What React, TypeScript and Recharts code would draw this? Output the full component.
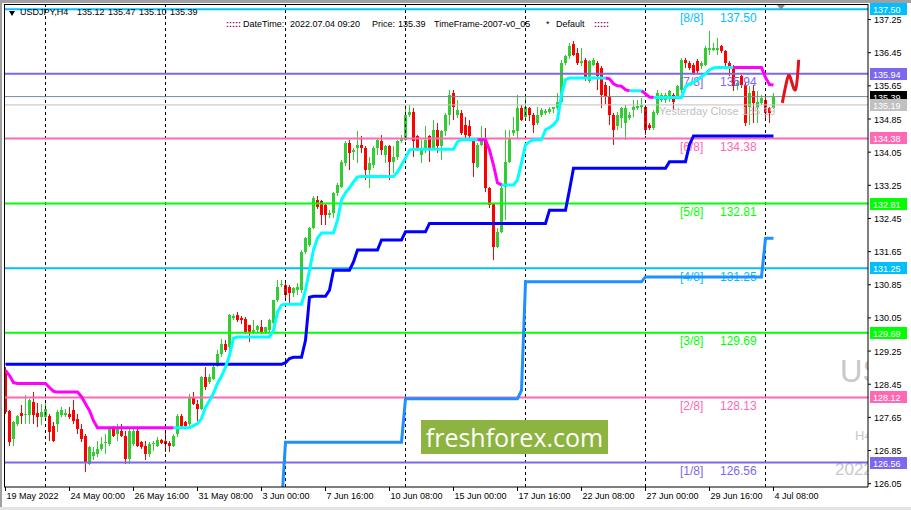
import React from "react";
import { ComposedChart, XAxis, YAxis, Bar, Line, ReferenceLine } from "recharts";

// USDJPY H4 candles, first bar 19 May 2022 08:00, last bar 4 Jul 2022 08:00
const opens = [
  128.80, 127.80, 127.13, 127.49, 127.75, 127.70, 127.70, 128.02, 127.75, 127.65,
  127.66, 127.68, 127.45, 127.49, 127.70, 127.70, 127.74, 127.82, 127.61, 127.37,
  127.21, 126.53, 126.73, 126.77, 126.89, 127.02, 127.01, 127.37, 127.25, 127.33,
  127.21, 126.65, 127.01, 127.33, 127.05, 126.95, 126.77, 127.00, 126.97, 127.11,
  127.09, 127.03, 126.97, 127.25, 127.69, 127.53, 127.49, 128.14, 127.98, 127.86,
  128.62, 128.50, 128.58, 128.90, 129.19, 129.43, 129.35, 130.05, 130.11, 130.05,
  130.03, 129.87, 129.71, 129.76, 129.83, 129.71, 129.75, 129.93, 130.48, 130.84,
  130.84, 130.80, 130.64, 130.72, 130.72, 131.64, 131.81, 132.21, 132.90, 132.86,
  132.77, 132.53, 132.57, 133.06, 133.22, 133.78, 134.27, 134.05, 134.15, 134.23,
  134.15, 133.62, 133.74, 134.15, 134.31, 133.98, 134.19, 133.82, 133.94, 134.31,
  134.35, 134.95, 135.03, 134.43, 133.98, 134.15, 134.43, 134.15, 134.59, 134.19,
  134.55, 134.95, 135.48, 134.95, 135.00, 134.71, 134.67, 134.35, 133.70, 134.23,
  134.35, 133.18, 132.82, 131.77, 132.13, 133.22, 133.82, 134.51, 134.55, 135.11,
  134.91, 135.11, 134.95, 134.75, 134.95, 135.00, 135.03, 135.09, 135.11, 135.27,
  136.20, 136.36, 136.65, 136.44, 136.20, 136.28, 135.76, 136.16, 136.20, 136.08,
  135.68, 135.40, 134.95, 134.67, 134.87, 134.75, 134.87, 135.07, 135.11, 135.14,
  135.15, 134.71, 134.63, 134.99, 135.31, 135.31, 135.40, 135.44, 135.40, 135.56,
  136.28, 136.20, 136.16, 136.24, 136.12, 136.16, 136.52, 136.52, 136.52, 136.60,
  136.48, 136.20, 136.12, 135.64, 135.88, 135.68, 135.15, 135.52, 135.15, 135.23,
  135.31, 135.11, 135.12,
];
const highs = [
  128.86, 127.84, 127.57, 127.70, 127.94, 128.18, 128.10, 128.26, 128.00, 127.98,
  128.02, 127.74, 127.55, 127.82, 127.90, 127.85, 127.90, 128.06, 127.74, 127.50,
  127.25, 126.97, 126.93, 127.09, 127.17, 127.25, 127.41, 127.45, 127.49, 127.49,
  127.33, 127.37, 127.40, 127.37, 127.09, 127.09, 127.05, 127.09, 127.17, 127.13,
  127.33, 127.09, 127.25, 127.74, 127.74, 127.57, 128.22, 128.26, 128.06, 128.64,
  128.86, 128.70, 128.94, 129.27, 129.55, 129.51, 130.15, 130.15, 130.19, 130.10,
  130.07, 129.87, 130.00, 129.87, 130.00, 129.83, 130.03, 130.48, 130.96, 130.96,
  130.96, 130.85, 130.80, 130.90, 131.70, 132.01, 132.25, 132.98, 132.98, 132.90,
  132.80, 132.65, 133.10, 133.30, 133.86, 134.31, 134.35, 134.15, 134.55, 134.43,
  134.19, 133.94, 134.19, 134.39, 134.47, 134.23, 134.23, 134.19, 134.35, 134.47,
  135.19, 135.19, 135.11, 134.47, 134.35, 134.67, 134.47, 134.83, 134.75, 134.59,
  135.00, 135.56, 135.56, 135.31, 135.07, 134.91, 134.83, 134.39, 134.27, 134.67,
  134.63, 133.20, 132.82, 132.21, 133.26, 134.59, 134.59, 134.91, 135.44, 135.19,
  135.44, 135.15, 135.00, 135.15, 135.11, 135.10, 135.14, 135.15, 135.48, 136.28,
  136.40, 136.69, 136.73, 136.57, 136.57, 136.32, 136.28, 136.32, 136.24, 136.12,
  135.75, 135.64, 134.99, 135.03, 135.15, 135.19, 135.03, 135.31, 135.31, 135.35,
  135.19, 134.75, 135.07, 135.56, 135.48, 135.48, 135.56, 135.48, 135.68, 136.32,
  136.32, 136.24, 136.20, 136.30, 136.25, 136.60, 136.97, 136.69, 136.81, 136.64,
  136.52, 136.24, 136.16, 135.80, 135.92, 135.72, 135.64, 135.68, 135.52, 135.44,
  135.44, 135.15, 135.47,
];
const lows = [
  127.74, 126.97, 126.97, 127.45, 127.50, 127.50, 127.50, 127.50, 127.41, 127.47,
  127.57, 127.09, 127.05, 127.29, 127.65, 127.65, 127.62, 127.50, 127.25, 127.05,
  126.32, 126.49, 126.61, 126.69, 126.85, 126.77, 126.97, 127.17, 127.09, 127.17,
  126.53, 126.53, 126.95, 126.93, 126.89, 126.61, 126.69, 126.85, 126.93, 127.01,
  126.81, 126.81, 126.93, 127.17, 127.41, 127.41, 127.45, 127.94, 127.57, 127.82,
  128.30, 128.46, 128.54, 128.86, 129.11, 129.23, 129.27, 130.00, 129.95, 129.90,
  129.67, 129.47, 129.67, 129.71, 129.67, 129.67, 129.71, 129.90, 130.44, 130.80,
  130.48, 130.40, 130.55, 130.60, 130.65, 131.60, 131.75, 132.20, 132.69, 132.29,
  132.30, 132.45, 132.45, 133.00, 133.18, 133.72, 133.62, 133.85, 133.78, 134.03,
  133.38, 133.18, 133.66, 133.98, 133.98, 133.78, 133.38, 133.54, 133.86, 134.27,
  134.31, 134.91, 133.94, 134.07, 133.78, 134.03, 133.82, 134.10, 134.03, 133.86,
  134.43, 134.71, 134.83, 134.87, 134.47, 134.35, 134.39, 133.46, 133.66, 134.20,
  133.10, 132.70, 131.44, 131.73, 132.09, 132.41, 133.78, 134.43, 134.39, 134.79,
  134.87, 134.79, 134.51, 134.71, 134.91, 134.95, 134.97, 135.00, 135.07, 135.23,
  136.15, 136.30, 136.36, 136.16, 136.12, 135.76, 135.72, 136.12, 135.56, 135.11,
  135.20, 134.71, 134.23, 134.59, 134.63, 134.35, 134.83, 134.91, 135.07, 134.99,
  134.47, 134.59, 134.59, 134.95, 135.27, 135.23, 135.27, 135.07, 135.35, 135.48,
  136.08, 136.04, 135.92, 135.95, 136.05, 136.12, 136.40, 136.48, 136.40, 136.44,
  136.12, 135.88, 135.52, 135.55, 135.60, 134.67, 134.71, 134.75, 134.75, 135.19,
  134.87, 134.75, 135.10,
];
const closes = [
  127.77, 127.05, 127.53, 127.69, 127.69, 127.72, 128.06, 127.70, 127.65, 127.77,
  127.86, 127.29, 127.09, 127.78, 127.82, 127.76, 127.67, 127.57, 127.37, 127.13,
  126.57, 126.93, 126.81, 126.89, 127.01, 127.06, 127.37, 127.21, 127.37, 127.21,
  126.65, 127.33, 127.33, 126.97, 126.93, 126.77, 127.01, 127.03, 127.11, 127.03,
  127.01, 126.97, 127.21, 127.69, 127.45, 127.45, 128.14, 127.98, 127.86, 128.62,
  128.38, 128.62, 128.86, 129.19, 129.43, 129.27, 130.11, 130.09, 129.99, 129.99,
  129.71, 129.71, 129.77, 129.85, 129.71, 129.83, 130.00, 130.48, 130.80, 130.88,
  130.60, 130.64, 130.76, 130.79, 131.64, 131.97, 132.21, 132.94, 132.73, 132.53,
  132.53, 132.57, 133.06, 133.26, 133.82, 134.27, 134.03, 134.10, 134.23, 134.15,
  133.62, 133.78, 134.15, 134.35, 134.11, 134.19, 133.82, 133.94, 134.31, 134.39,
  134.95, 135.03, 134.31, 134.11, 134.15, 134.35, 134.15, 134.59, 134.19, 134.55,
  134.95, 135.44, 135.15, 135.07, 134.51, 134.47, 134.43, 133.78, 134.23, 134.35,
  133.18, 132.78, 131.77, 132.13, 133.18, 133.82, 134.39, 134.59, 135.11, 134.83,
  135.15, 134.95, 134.71, 134.95, 135.07, 135.05, 135.09, 135.13, 135.27, 136.20,
  136.36, 136.61, 136.40, 136.20, 136.24, 135.84, 136.24, 136.28, 135.88, 135.44,
  135.40, 134.95, 134.59, 134.95, 135.11, 135.11, 134.95, 135.15, 135.17, 135.19,
  134.59, 134.63, 135.03, 135.48, 135.44, 135.44, 135.52, 135.27, 135.64, 136.28,
  136.20, 136.08, 135.96, 136.00, 136.20, 136.56, 136.56, 136.56, 136.56, 136.48,
  136.20, 136.12, 135.64, 135.72, 135.68, 134.75, 135.48, 135.23, 135.27, 135.35,
  134.99, 134.99, 135.39,
];

// trailing stop line (cyan while rising, magenta while falling)
const trail = [
  128.78, 128.66, 128.49, 128.47, 128.47, 128.47, 128.47, 128.47, 128.47, 128.47,
  128.47, 128.37, 128.28, 128.26, 128.26, 128.26, 128.26, 128.26, 128.26, 128.15,
  127.98, 127.81, 127.57, 127.40, 127.40, 127.40, 127.40, 127.40, 127.40, 127.40,
  127.40, 127.40, 127.40, 127.40, 127.40, 127.40, 127.40, 127.40, 127.40, 127.40,
  127.40, 127.40, 127.40, 127.40, 127.40, 127.40, 127.40, 127.45, 127.50, 127.62,
  127.89, 128.06, 128.23, 128.47, 128.64, 128.86, 129.15, 129.56, 129.59, 129.59,
  129.59, 129.59, 129.59, 129.59, 129.59, 129.59, 129.59, 129.75, 130.19, 130.36,
  130.38, 130.38, 130.38, 130.38, 130.38, 130.72, 131.20, 131.69, 131.98, 132.10,
  132.10, 132.10, 132.10, 132.41, 132.90, 133.07, 133.19, 133.33, 133.45, 133.46,
  133.46, 133.46, 133.46, 133.46, 133.46, 133.46, 133.46, 133.46, 133.57, 133.74,
  133.91, 134.10, 134.12, 134.12, 134.12, 134.12, 134.12, 134.12, 134.12, 134.12,
  134.12, 134.12, 134.12, 134.30, 134.35, 134.35, 134.35, 134.35, 134.35, 134.35,
  134.35, 134.10, 133.74, 133.31, 133.26, 133.26, 133.26, 133.26, 133.38, 133.79,
  134.23, 134.30, 134.35, 134.35, 134.35, 134.59, 134.64, 134.71, 134.83, 135.44,
  135.80, 135.84, 135.84, 135.84, 135.84, 135.84, 135.84, 135.84, 135.84, 135.84,
  135.84, 135.82, 135.70, 135.65, 135.64, 135.56, 135.53, 135.53, 135.53, 135.53,
  135.46, 135.38, 135.37, 135.37, 135.37, 135.37, 135.37, 135.37, 135.37, 135.37,
  135.63, 135.70, 135.73, 135.80, 135.87, 135.94, 136.04, 136.08, 136.09, 136.09,
  136.09, 136.09, 136.09, 136.09, 136.09, 136.09, 136.09, 136.09, 136.09, 136.09,
  135.85, 135.68, 135.67,
];
// bar ranges where the trail is drawn magenta
const trailDownRuns = [
  [0, 42],
  [118, 124],
  [150, 156],
  [159, 162],
  [182, 192],
];

const darkBlue = [
  128.93, 128.93, 128.93, 128.93, 128.93, 128.93, 128.93, 128.93, 128.93, 128.93,
  128.93, 128.93, 128.93, 128.93, 128.93, 128.93, 128.93, 128.93, 128.93, 128.93,
  128.93, 128.93, 128.93, 128.93, 128.93, 128.93, 128.93, 128.93, 128.93, 128.93,
  128.93, 128.93, 128.93, 128.93, 128.93, 128.93, 128.93, 128.93, 128.93, 128.93,
  128.93, 128.93, 128.93, 128.93, 128.93, 128.93, 128.93, 128.93, 128.93, 128.93,
  128.93, 128.93, 128.93, 128.93, 128.93, 128.93, 128.93, 128.93, 128.93, 128.93,
  128.93, 128.93, 128.93, 128.93, 128.93, 128.93, 128.93, 128.93, 128.93, 128.93,
  128.97, 129.07, 129.10, 129.10, 129.10, 129.51, 130.55, 130.57, 130.57, 130.57,
  130.57, 130.72, 131.20, 131.20, 131.20, 131.20, 131.20, 131.40, 131.69, 131.69,
  131.69, 131.69, 131.69, 131.69, 131.93, 131.93, 131.93, 131.93, 131.93, 131.93,
  132.13, 132.13, 132.13, 132.13, 132.13, 132.13, 132.33, 132.33, 132.33, 132.33,
  132.33, 132.33, 132.33, 132.33, 132.33, 132.33, 132.33, 132.33, 132.33, 132.33,
  132.33, 132.33, 132.33, 132.33, 132.33, 132.33, 132.33, 132.33, 132.33, 132.33,
  132.33, 132.33, 132.33, 132.33, 132.33, 132.33, 132.65, 132.65, 132.65, 132.65,
  132.65, 133.14, 133.66, 133.66, 133.66, 133.66, 133.66, 133.66, 133.66, 133.66,
  133.66, 133.66, 133.66, 133.66, 133.66, 133.66, 133.66, 133.66, 133.66, 133.66,
  133.66, 133.66, 133.66, 133.66, 133.66, 133.66, 133.82, 133.82, 133.82, 133.82,
  133.82, 134.23, 134.44, 134.44, 134.44, 134.44, 134.44, 134.44, 134.44, 134.44,
  134.44, 134.44, 134.44, 134.44, 134.44, 134.44, 134.44, 134.44, 134.44, 134.44,
  134.44, 134.44, 134.44,
];

const dodgerBlue = [
  null, null, null, null, null, null, null, null, null, null,
  null, null, null, null, null, null, null, null, null, null,
  null, null, null, null, null, null, null, null, null, null,
  null, null, null, null, null, null, null, null, null, null,
  null, null, null, null, null, null, null, null, null, null,
  null, null, null, null, null, null, null, null, null, null,
  null, null, null, null, null, null, null, null, null, 125.50,
  127.05, 127.05, 127.05, 127.05, 127.05, 127.05, 127.05, 127.05, 127.05, 127.05,
  127.05, 127.05, 127.05, 127.05, 127.05, 127.05, 127.05, 127.05, 127.05, 127.05,
  127.05, 127.05, 127.05, 127.05, 127.05, 127.05, 127.05, 127.05, 127.05, 127.05,
  128.10, 128.10, 128.10, 128.10, 128.10, 128.10, 128.10, 128.10, 128.10, 128.10,
  128.10, 128.10, 128.10, 128.10, 128.10, 128.10, 128.10, 128.10, 128.10, 128.10,
  128.10, 128.10, 128.10, 128.10, 128.10, 128.10, 128.10, 128.10, 128.10, 128.30,
  130.92, 130.92, 130.92, 130.92, 130.92, 130.92, 130.92, 130.92, 130.92, 130.92,
  130.92, 130.92, 130.92, 130.92, 130.92, 130.92, 130.92, 130.92, 130.92, 130.92,
  130.92, 130.92, 130.92, 130.92, 130.92, 130.92, 130.92, 130.92, 130.92, 130.92,
  131.04, 131.04, 131.04, 131.04, 131.04, 131.04, 131.04, 131.04, 131.04, 131.04,
  131.04, 131.04, 131.04, 131.04, 131.04, 131.04, 131.04, 131.04, 131.04, 131.04,
  131.04, 131.04, 131.04, 131.04, 131.04, 131.04, 131.04, 131.04, 131.04, 131.04,
  131.97, 131.97, 131.97,
];

// hand drawn forecast scribble right of the last bar
const forecastX = [194.2, 195.4, 196.25, 197.5, 198.3];
const forecastY = [135.24, 135.8, 135.84, 135.56, 136.28];

const weekStarts = [10, 40, 70, 100, 130, 160, 190];
const dateTicks = [0, 16, 32, 48, 64, 80, 96, 112, 128, 144, 160, 176, 192];
const dateLabels = [
  "19 May 2022", "24 May 00:00", "26 May 16:00", "31 May 08:00", "3 Jun 00:00",
  "7 Jun 16:00", "10 Jun 08:00", "15 Jun 00:00", "17 Jun 16:00", "22 Jun 08:00",
  "27 Jun 00:00", "29 Jun 16:00", "4 Jul 08:00",
];
const priceTicks = [
  126.05, 126.85, 127.65, 128.45, 129.25, 130.05, 130.85, 131.65,
  132.45, 133.25, 134.05, 134.85, 135.65, 136.45, 137.25,
];

const murreyLevels = [137.5, 135.94, 134.38, 132.81, 131.25, 129.69, 128.13, 126.56];
const murreyNames = ["[8/8]", "[7/8]", "[6/8]", "[5/8]", "[4/8]", "[3/8]", "[2/8]", "[1/8]"];
const murreyTexts = ["137.50", "135.94", "134.38", "132.81", "131.25", "129.69", "128.13", "126.56"];
const murreyBoxes = ["137.50", "135.94", "134.38", "132.81", "131.25", "129.69", "128.12", "126.56"];
const murreyColors = ["#00BFFF", "#7B68EE", "#FF69B4", "#00FF00", "#00BFFF", "#00FF00", "#FF69B4", "#7B68EE"];

const bidPrice = 135.39;
const yesterdayClose = 135.19;

const FONT = '"Liberation Sans", Arial, sans-serif';

const rows = opens.map((o, i) => {
  const down = trailDownRuns.some(([a, b]) => i >= a && i <= b);
  const edge = trailDownRuns.some(([a, b]) => i === a || i === b);
  return {
    i,
    o,
    h: highs[i],
    l: lows[i],
    c: closes[i],
    up: !down || edge ? trail[i] : null,
    dn: down ? trail[i] : null,
    blue: darkBlue[i],
    dodger: dodgerBlue[i],
  };
});

const forecastRows = forecastX.map((x, k) => ({ i: x, v: forecastY[k] }));

function Candle(props: any) {
  const { x, y, width, height, payload } = props;
  if (!payload) return null;
  const top = Math.min(y, y + height);
  const bot = Math.max(y, y + height);
  const span = payload.h - payload.l;
  const toPx = (v: number) => (span > 0 ? top + ((payload.h - v) / span) * (bot - top) : top);
  const cx = Math.floor(x + width / 2);
  const col = payload.c >= payload.o ? "#32CD32" : "#FF0000";
  const bTop = Math.round(toPx(Math.max(payload.o, payload.c)));
  const bBot = Math.round(toPx(Math.min(payload.o, payload.c)));
  const wTop = Math.round(top);
  return (
    <g shapeRendering="crispEdges">
      <rect x={cx} y={wTop} width={1} height={Math.max(1, Math.round(bot) - wTop)} fill={col} />
      <rect x={cx - 1} y={bTop} width={3} height={Math.max(1, bBot - bTop)} fill={col} />
    </g>
  );
}

function LevelLabel(props: any) {
  const { viewBox, name, text, box, color, boxColor, note, noteColor } = props;
  if (!viewBox) return null;
  const { x, y, width } = viewBox;
  const right = x + width;
  const yy = Math.round(y);
  return (
    <g fontFamily={FONT}>
      {name && (
        <text x={x + 676} y={y + 12.5} fontSize={12} fill={color}>
          {name}
        </text>
      )}
      {text && (
        <text x={x + 716} y={y + 12.5} fontSize={12} fill={color}>
          {text}
        </text>
      )}
      {note && (
        <text x={x + 655} y={y + 10.5} fontSize={11} fill={noteColor}>
          {note}
        </text>
      )}
      <rect x={right + 2} y={yy - 6} width={37} height={12} fill={boxColor || color} />
      <text x={right + 5} y={yy + 3.5} fontSize={9} fill="#ffffff">
        {box}
      </text>
    </g>
  );
}

function XTick(props: any) {
  const { x, y, payload } = props;
  const k = dateTicks.indexOf(payload.value);
  return (
    <text x={x + 1} y={y + 6} fontSize={9} fontFamily={FONT} fill="#000">
      {dateLabels[k]}
    </text>
  );
}

function YTick(props: any) {
  const { x, y, payload } = props;
  return (
    <text x={x + 1} y={y + 3.5} fontSize={9} fontFamily={FONT} fill="#000">
      {payload.value.toFixed(2)}
    </text>
  );
}

const abs = (left: number, top: number, extra: React.CSSProperties = {}): React.CSSProperties => ({
  position: "absolute",
  left,
  top,
  whiteSpace: "pre",
  lineHeight: 1,
  ...extra,
});

export default function App() {
  const small: React.CSSProperties = { fontFamily: FONT, fontSize: 9, color: "#000" };
  const dots: React.CSSProperties = { ...small, color: "#800080", fontWeight: "bold" };
  const mark: React.CSSProperties = { fontFamily: FONT, color: "#c8c8c8" };
  return (
    <div
      style={{
        position: "fixed",
        left: 0,
        top: 0,
        width: 911,
        height: 510,
        background: "#ffffff",
        overflow: "hidden",
      }}
    >
      {/* window edges */}
      <div style={abs(0, 0, { width: 911, height: 3, background: "#a0a0a0" })} />
      <div style={abs(0, 0, { width: 2, height: 510, background: "#a0a0a0" })} />
      <div style={abs(0, 507, { width: 911, height: 3, background: "#e3e3e3" })} />

      {/* symbol watermark behind the chart, cut by the price scale */}
      <div style={abs(4, 4, { width: 864, height: 483, overflow: "hidden" })}>
        <div style={abs(836, 352, { ...mark, fontSize: 31 })}>US</div>
        <div style={abs(851, 425, { ...mark, fontSize: 13 })}>H4</div>
        <div style={abs(831, 457, { ...mark, fontSize: 17 })}>2022</div>
      </div>

      <div style={abs(0, 0)}>
        <ComposedChart width={911} height={510} data={rows} margin={{ top: 4, right: 0, bottom: 0, left: 4 }}>
          <XAxis
            dataKey="i"
            type="number"
            domain={[-0.375, 215.625]}
            allowDataOverflow
            ticks={dateTicks}
            interval={0}
            height={23}
            tickSize={4}
            tickLine={{ stroke: "#000" }}
            axisLine={{ stroke: "#000" }}
            tick={XTick}
          />
          <YAxis
            orientation="right"
            type="number"
            domain={[125.97, 137.625]}
            allowDataOverflow
            ticks={priceTicks}
            interval={0}
            width={43}
            tickSize={3}
            tickLine={{ stroke: "#000" }}
            axisLine={{ stroke: "#000" }}
            tick={YTick}
          />

          {weekStarts.map((w) => (
            <ReferenceLine key={"w" + w} x={w} stroke="#000" strokeDasharray="3 3" strokeWidth={1} />
          ))}

          {murreyLevels.map((lv, k) => (
            <ReferenceLine
              key={"m" + k}
              y={lv}
              stroke={murreyColors[k]}
              strokeWidth={2}
              label={
                <LevelLabel
                  name={murreyNames[k]}
                  text={murreyTexts[k]}
                  box={murreyBoxes[k]}
                  color={murreyColors[k]}
                />
              }
            />
          ))}

          <ReferenceLine
            y={bidPrice}
            stroke="#778899"
            strokeWidth={1}
            label={<LevelLabel box="135.39" color="#000000" />}
          />
          <ReferenceLine
            y={yesterdayClose}
            stroke="#C0C0C0"
            strokeWidth={1}
            label={
              <LevelLabel
                box="135.19"
                color="#C0C0C0"
                note={"Yesterday Close " + yesterdayClose.toFixed(2)}
                noteColor="#C0C0C0"
              />
            }
          />

          <Bar dataKey={(d: any) => [d.l, d.h]} barSize={3} shape={<Candle />} isAnimationActive={false} />

          <Line dataKey="dodger" stroke="#1E90FF" strokeWidth={3} dot={false} isAnimationActive={false} />
          <Line dataKey="blue" stroke="#0000FF" strokeWidth={3} dot={false} isAnimationActive={false} />
          <Line dataKey="up" stroke="#00FFFF" strokeWidth={3} dot={false} isAnimationActive={false} />
          <Line dataKey="dn" stroke="#FF00FF" strokeWidth={3} dot={false} isAnimationActive={false} />
          <Line
            data={forecastRows}
            dataKey="v"
            type="natural"
            stroke="#E3121B"
            strokeWidth={3}
            dot={false}
            isAnimationActive={false}
          />
        </ComposedChart>
      </div>

      {/* chart frame left / top */}
      <div style={abs(4, 4, { width: 864, height: 1, background: "#000" })} />
      <div style={abs(4, 4, { width: 1, height: 483, background: "#000" })} />

      {/* chart shift marker */}
      <div
        style={abs(777, 5, {
          width: 0,
          height: 0,
          borderLeft: "4px solid transparent",
          borderRight: "4px solid transparent",
          borderTop: "5px solid #8a8a8a",
        })}
      />

      {/* header texts */}
      <div
        style={abs(9, 11, {
          width: 0,
          height: 0,
          borderLeft: "3px solid transparent",
          borderRight: "3px solid transparent",
          borderTop: "5px solid #000",
        })}
      />
      <div style={abs(20, 8, small)}>USDJPY,H4</div>
      <div style={abs(77, 8, small)}>135.12</div>
      <div style={abs(108, 8, small)}>135.47</div>
      <div style={abs(139, 8, small)}>135.10</div>
      <div style={abs(170, 8, small)}>135.39</div>

      <div style={abs(226, 20, dots)}>:::::</div>
      <div style={abs(243, 20, small)}>DateTime:</div>
      <div style={abs(290, 20, small)}>2022.07.04 09:20</div>
      <div style={abs(372, 20, small)}>Price:</div>
      <div style={abs(398, 20, small)}>135.39</div>
      <div style={abs(434, 20, small)}>TimeFrame-2007-v0_05</div>
      <div style={abs(546, 20, small)}>*</div>
      <div style={abs(556, 20, small)}>Default</div>
      <div style={abs(594, 20, dots)}>:::::</div>

      {/* broker logo */}
      <div
        style={abs(421, 420, {
          width: 187,
          height: 34,
          background: "#8DB340",
          color: "#ffffff",
          fontFamily: '"Open Sans", sans-serif',
          fontSize: 25,
          display: "flex",
          alignItems: "center",
          justifyContent: "center",
        })}
      >
        freshforex.com
      </div>
    </div>
  );
}
